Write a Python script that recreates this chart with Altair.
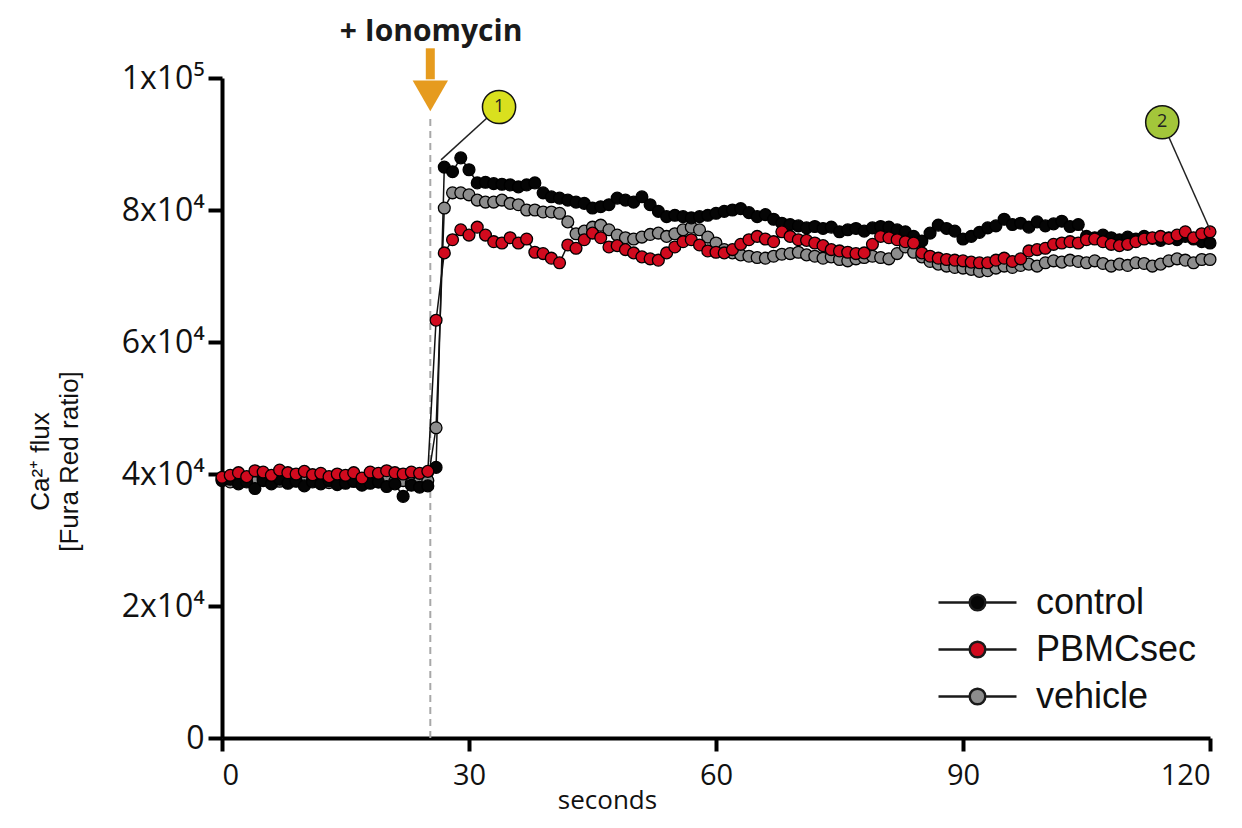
import altair as alt
import pandas as pd

# ---- data (values in units of 1000) ----
seconds = list(range(121))

control = [
    39.0, 39.2, 38.5, 38.8, 37.8, 39.0, 38.5, 39.2, 38.6, 38.9,
    38.2, 38.8, 38.5, 39.0, 38.4, 38.6, 38.9, 38.3, 38.6, 38.8,
    38.1, 38.5, 36.6, 38.3, 38.0, 38.2,
    41.0, 86.5, 85.8, 87.9,
    86.1, 84.1, 84.2, 84.0, 83.9, 83.8, 83.5, 83.8, 84.1, 82.6,
    82.0, 81.8, 81.5, 81.2, 81.0, 80.3, 80.5, 80.8, 81.8, 81.5,
    81.2, 82.0, 80.8, 79.8, 79.0, 79.2, 79.0, 78.8, 79.0, 79.2,
    79.5, 79.8, 80.0, 80.2, 79.6, 79.0, 79.3, 78.6, 78.0, 77.8,
    77.6, 77.3, 77.5, 77.2, 77.4, 76.7, 77.0, 77.2, 76.8, 77.3,
    77.5, 77.4, 77.0, 76.7, 76.0, 75.3, 76.5, 77.7, 77.2, 76.8,
    75.6, 76.0, 76.6, 77.3, 77.6, 78.6, 77.8, 78.0, 77.4, 78.2,
    77.6, 77.9, 78.3, 77.5, 77.8, 76.0, 75.8, 76.2, 75.8, 75.5,
    75.9, 75.6, 76.0, 75.7, 75.4, 75.8, 75.5, 76.0, 75.6, 75.2,
    75.0,
]

pbmcsec = [
    39.5, 39.8, 40.2, 39.6, 40.5, 40.3, 39.8, 40.6, 40.2, 40.0,
    40.4, 39.9, 40.1, 39.6, 40.0, 39.8, 40.2, 39.4, 40.3, 40.1,
    40.5, 40.2, 40.0, 40.3, 40.1, 40.4,
    63.3, 73.5, 75.5, 77.0,
    76.2, 77.4, 76.2, 75.2, 75.0, 75.8, 75.0, 75.6, 73.6, 73.4,
    72.7, 72.0, 74.7, 74.2, 75.5, 76.5, 75.8, 74.4, 74.6, 74.0,
    73.5, 72.9, 72.6, 72.4, 73.5, 74.4, 75.2, 75.5, 74.7, 73.8,
    73.6, 73.5, 74.0, 74.8, 75.5, 76.0, 75.6, 75.2, 76.7, 76.0,
    75.5, 75.4, 75.0, 74.6, 74.0, 73.8, 73.6, 73.4, 73.5, 74.8,
    76.0, 75.8, 75.5, 75.2, 75.0, 73.5, 73.0, 72.7, 72.5, 72.4,
    72.3, 72.1, 72.0, 72.0, 72.4, 72.7, 72.2, 72.6, 73.8, 74.0,
    74.2, 74.8, 75.0, 75.2, 75.0, 75.5, 75.6, 75.2, 74.8, 74.6,
    74.8, 75.2, 75.6, 75.8, 76.0, 75.7, 76.2, 76.7, 75.8, 76.4,
    76.7,
]

vehicle = [
    39.2, 38.8, 39.5, 39.0, 38.7, 39.3, 39.1, 38.9, 39.4, 39.0,
    38.8, 39.2, 39.0, 38.7, 39.1, 39.3, 38.9, 39.0, 39.2, 38.8,
    39.1, 38.9, 39.0, 38.6, 38.9, 39.0,
    47.0, 80.3, 82.6, 82.6,
    82.3, 81.5, 81.2, 81.2, 81.5, 81.0, 80.8, 80.0, 80.0, 79.7,
    79.7, 79.5, 78.2, 76.4, 76.8, 77.4, 77.7, 77.0, 76.2, 75.8,
    75.6, 75.9, 76.3, 76.5, 76.0, 76.4, 77.0, 77.4, 77.0, 75.9,
    75.0, 74.0, 73.5, 73.2, 73.0, 72.8, 72.7, 73.0, 73.3, 73.4,
    73.6, 73.2, 73.0, 72.7, 72.9, 72.5, 72.3, 72.6, 72.8, 73.0,
    72.8, 72.6, 73.4, 74.4, 73.6, 72.9, 72.2, 71.8, 71.5, 71.3,
    71.2, 71.0, 70.7, 70.8, 71.2, 71.5, 71.3, 71.6, 71.8, 71.5,
    72.0, 72.3, 72.1, 72.4, 72.2, 72.0, 72.3, 71.9, 71.5, 71.8,
    71.6, 72.0, 71.9, 71.5, 71.8, 72.3, 72.6, 72.4, 72.0, 72.5,
    72.5,
]

legend_order = ["control", "PBMCsec", "vehicle"]
legend_colors = ["#050505", "#d10a1e", "#8d8d8d"]
draw_order = [("vehicle", vehicle), ("control", control), ("PBMCsec", pbmcsec)]

y_ticks = [0, 20000, 40000, 60000, 80000, 100000]
x_ticks = [0, 30, 60, 90, 120]

# annotation values
ionomycin_t = 25.3
arrow_top, arrow_bottom, arrow_head = 104500, 99800, 97300
label_v = 106900
dash_top = 94000
callout_labels = ["1", "2"]
callout_t = [33.65, 114.2]
callout_v = [95600, 93300]
callout_target_t = [26.6, 120.0]
callout_target_v = [87600, 77000]
callout_fills = ["#d9e01e", "#a3c63a"]

assert all(len(s) == len(seconds) for s in (control, pbmcsec, vehicle))

rows = []
for name, vals in draw_order:
    for t, v in zip(seconds, vals):
        rows.append({"t": t, "v": v * 1000, "series": name})
df = pd.DataFrame(rows)

xscale = alt.Scale(domain=[0, 120], nice=False)
yscale = alt.Scale(domain=[0, 100000], nice=False)

x_axis = alt.Axis(
    values=x_ticks, title="seconds", labelFont="Open Sans", labelFontSize=29,
    labelColor="#111", labelPadding=10, tickSize=13, titleFont="Open Sans",
    titleFontSize=26, titleFontWeight="normal", titleColor="#111",
    titleX=385, titleY=62, titleAlign="center", titleBaseline="middle",
)
y_axis = alt.Axis(
    values=y_ticks,
    labelExpr="datum.value == 0 ? '0' : datum.value == 100000 ? '1x10\u2075' : (datum.value/10000) + 'x10\u2074'",
    title=["Ca\u00b2\u207a flux", "[Fura Red ratio]"],
    labelFont="Open Sans", labelFontSize=32, labelColor="#111", labelPadding=4,
    tickSize=14, titleFont="Liberation Sans", titleFontSize=26,
    titleFontWeight="normal", titleColor="#111", titleX=-182, titleY=383,
    titleAngle=-90, titleAlign="center", titleBaseline="middle", titleLineHeight=29,
)

X = alt.X("t:Q", scale=xscale, axis=x_axis)
Y = alt.Y("v:Q", scale=yscale, axis=y_axis)

sym = "M-1,0H-0.2M0.2,0H1M0.2,0A0.2,0.2,0,1,1,-0.2,0A0.2,0.2,0,1,1,0.2,0Z"

dash_df = pd.DataFrame({"t": [ionomycin_t], "v": [0], "v2": [dash_top]})
dash = alt.Chart(dash_df).mark_rule(color="#a8a8a8", strokeWidth=2, strokeDash=[7, 5]).encode(
    x=X, y=Y, y2="v2:Q",
)

lines = alt.Chart(df).mark_line(color="#111", strokeWidth=1.5).encode(
    x=X, y=Y, detail="series:N",
)

points = alt.Chart(df).mark_point(
    filled=True, shape="circle", size=140, stroke="#000", strokeWidth=1.3, opacity=1
).encode(
    x=X, y=Y,
    fill=alt.Fill(
        "series:N",
        scale=alt.Scale(domain=legend_order, range=legend_colors),
        legend=alt.Legend(
            title=None, orient="none", legendX=715, legendY=501,
            symbolType=sym, symbolSize=6084, symbolStrokeWidth=2.5,
            symbolStrokeColor="#1a1a1a", symbolOpacity=1,
            labelFont="Liberation Sans", labelFontSize=36, labelColor="#111",
            labelOffset=18, labelLimit=400, clipHeight=47, rowPadding=0, padding=0,
        ),
    ),
)

shaft_df = pd.DataFrame({"t": [ionomycin_t], "v": [arrow_top], "v2": [arrow_bottom]})
shaft = alt.Chart(shaft_df).mark_rule(color="#e69b1e", strokeWidth=9).encode(
    x=X, y=Y, y2="v2:Q",
)
head_df = pd.DataFrame({"t": [ionomycin_t], "v": [arrow_head]})
head = alt.Chart(head_df).mark_point(
    shape="triangle-down", filled=True, size=1250, color="#e69b1e", opacity=1
).encode(x=X, y=Y)

label_df = pd.DataFrame({"t": [ionomycin_t + 0.1], "v": [label_v], "text": ["+ Ionomycin"]})
label = alt.Chart(label_df).mark_text(
    font="Open Sans", fontSize=30, fontWeight="bold", color="#1a1a1a", baseline="middle"
).encode(x=X, y=Y, text="text:N")

call_df = pd.DataFrame({
    "t": callout_t, "v": callout_v, "t2": callout_target_t, "v2": callout_target_v,
    "text": callout_labels,
})
leaders = alt.Chart(call_df).mark_rule(color="#222", strokeWidth=1.5).encode(
    x=X, y=Y, x2="t2:Q", y2="v2:Q",
)
circles = []
for i in range(2):
    sub = call_df.iloc[[i]]
    circles.append(
        alt.Chart(sub).mark_point(
            shape="circle", filled=True, size=1100, fill=callout_fills[i],
            stroke="#111", strokeWidth=1.5, opacity=1,
        ).encode(x=X, y=Y)
    )
nums = alt.Chart(call_df).mark_text(
    font="Open Sans", fontSize=18, color="#222", baseline="middle"
).encode(x=X, y=Y, text="text:N")

chart = alt.layer(
    dash, lines, points, shaft, head, label, leaders, *circles, nums
).properties(
    width=988, height=660,
    autosize=alt.AutoSizeParams(type="none"),
    padding={"left": 214, "top": 70, "right": 20, "bottom": 80},
).configure_view(stroke=None).configure_axis(
    grid=False, domainColor="#000", domainWidth=4, tickColor="#000", tickWidth=4,
)

chart.save("out.html", embed_options={"renderer": "svg", "actions": False})
